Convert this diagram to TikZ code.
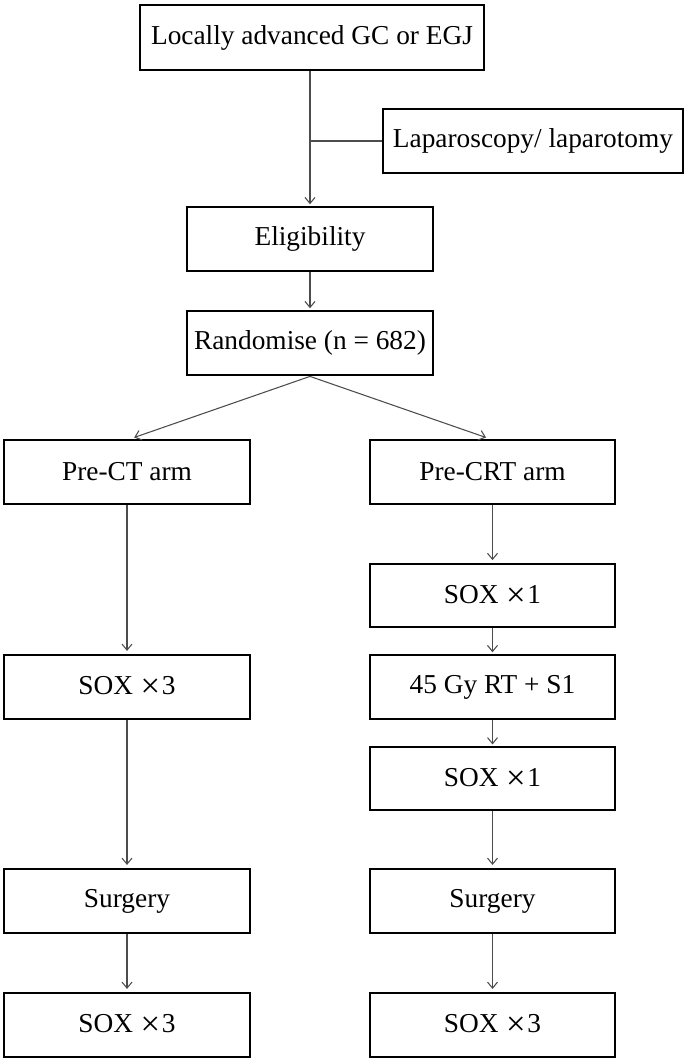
\documentclass[tikz,border=0pt]{standalone}
\usepackage{fontspec}
\setmainfont{Liberation Serif}
\usetikzlibrary{arrows.meta}
\newcommand{\mytimes}{\hspace{0.28em}\raisebox{-2.2pt}{\fontsize{26pt}{26pt}\selectfont ×}\hspace{0.06em}}
\begin{document}
\begin{tikzpicture}[x=0.75pt,y=-0.75pt,
  box/.style={draw=black,line width=1.6pt,minimum width=184pt,minimum height=48.5pt,inner sep=0pt,
    font=\fontsize{20.5pt}{24pt}\selectfont},
  conn/.style={draw=black!70,line width=0.8pt},
  arr/.style={conn,shorten >=1pt,-{Straight Barb[length=4.5pt,width=7.5pt]}}]
\useasboundingbox (0,0) rectangle (685,1062);
\node[box,minimum width=258pt,minimum height=49pt] (top) at (312,37.5) {Locally advanced GC or EGJ};
\node[box,minimum width=225pt] (lap) at (533,141) {Laparoscopy/ laparotomy};
\node[box] (elig) at (310,239) {Eligibility};
\node[box] (rand) at (310,343) {Randomise (n = 682)};
\node[box] (pct) at (127,472) {Pre-CT arm};
\node[box] (pcrt) at (492.5,472) {Pre-CRT arm};
\node[box,minimum height=47.5pt] (s1a) at (492.5,595.5) {SOX\mytimes 1};
\node[box] (gy) at (492.5,687) {45 Gy RT + S1};
\node[box,minimum height=47.5pt] (s1b) at (492.5,778.5) {SOX\mytimes 1};
\node[box] (s3a) at (127,687) {SOX\mytimes 3};
\node[box] (surgL) at (127,901) {Surgery};
\node[box] (surgR) at (492.5,901) {Surgery};
\node[box] (s3L) at (127,1025) {SOX\mytimes 3};
\node[box] (s3R) at (492.5,1025) {SOX\mytimes 3};
% connectors
\draw[arr] (top.south -| elig.north) -- (elig.north);
\draw[conn] (lap.west) -- (lap.west -| elig.north);
\draw[arr] (elig) -- (rand);
\draw[arr,shorten >=2.5pt] (rand.south) -- ([xshift=3pt]pct.north);
\draw[arr,shorten >=2.5pt] (rand.south) -- ([xshift=-2.5pt]pcrt.north);
\draw[arr,shorten >=2pt] (pct) -- (s3a);
\draw[arr,shorten >=2pt] (s3a) -- (surgL);
\draw[arr,shorten >=2pt] (surgL) -- (s3L);
\draw[arr,shorten >=2pt] (pcrt) -- (s1a);
\draw[arr] (s1a) -- (gy);
\draw[arr] (gy) -- (s1b);
\draw[arr,shorten >=2pt] (s1b) -- (surgR);
\draw[arr,shorten >=2pt] (surgR) -- (s3R);
\end{tikzpicture}
\end{document}
